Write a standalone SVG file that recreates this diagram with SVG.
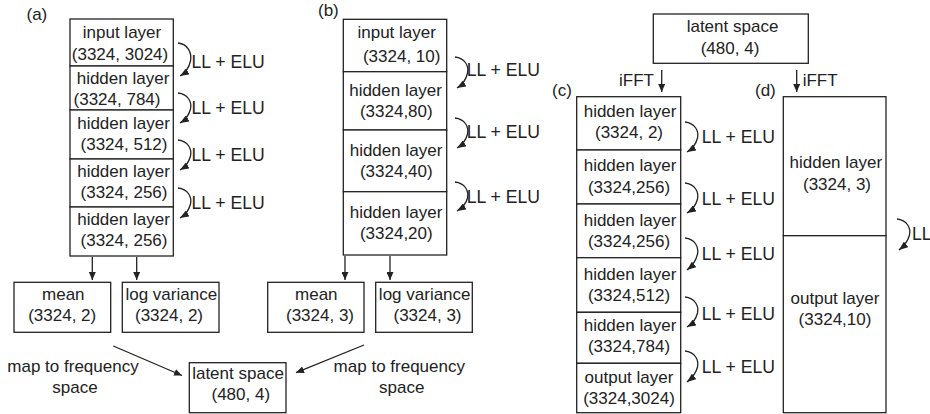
<svg xmlns="http://www.w3.org/2000/svg" width="930" height="414" viewBox="0 0 930 414">
<defs>
<marker id="ah" viewBox="0 0 9 7" refX="9" refY="3.5" markerWidth="9" markerHeight="7" markerUnits="userSpaceOnUse" orient="auto">
<path d="M0,0 L9,3.5 L0,7 z" fill="#222"/>
</marker>
<marker id="ahs" viewBox="0 0 8 7" refX="8" refY="3.5" markerWidth="8" markerHeight="7" markerUnits="userSpaceOnUse" orient="auto">
<path d="M0,0 L8,3.5 L0,7 z" fill="#222"/>
</marker>
</defs>
<style>
rect{fill:#fff;stroke:#222;stroke-width:1.3}
text{font-family:"Liberation Sans",Arial,sans-serif;font-size:17px;fill:#222}
.m{text-anchor:middle}
.e{text-anchor:end}
.l{font-size:17.6px}
.c{fill:none;stroke:#222;stroke-width:1.3;marker-end:url(#ah)}
.s{fill:none;stroke:#222;stroke-width:1.3;marker-end:url(#ahs)}
</style>
<rect x="0" y="0" width="930" height="414" style="stroke:none"/>
<g id="labels">
<text x="26.5" y="20">(a)</text>
<text x="318" y="16">(b)</text>
<text x="552" y="96">(c)</text>
<text x="755" y="96">(d)</text>
</g>
<g id="a1"><rect x="70" y="19" width="103.3" height="47"/><text class="m" x="122" y="37.5">input layer</text><text class="m" x="120" y="59.5">(3324, 3024)</text></g>
<g id="a2"><rect x="70" y="66" width="103.3" height="44"/><text class="m" x="123" y="84">hidden layer</text><text class="m" x="117" y="104.5">(3324, 784)</text></g>
<g id="a3"><rect x="70" y="110" width="103.3" height="49"/><text class="m" x="123.5" y="129">hidden layer</text><text class="m" x="124" y="150">(3324, 512)</text></g>
<g id="a4"><rect x="70" y="159" width="103.3" height="48"/><text class="m" x="123.5" y="177">hidden layer</text><text class="m" x="124" y="198">(3324, 256)</text></g>
<g id="a5"><rect x="70" y="207" width="103.3" height="49"/><text class="m" x="123.5" y="225">hidden layer</text><text class="m" x="124" y="246">(3324, 256)</text></g>
<g id="b1"><rect x="343.3" y="19.3" width="103.4" height="52.4"/><text class="m" x="396.7" y="38">input layer</text><text class="m" x="401.7" y="61.5">(3324, 10)</text></g>
<g id="b2"><rect x="343.3" y="71.7" width="103.4" height="58.3"/><text class="m" x="395.5" y="96">hidden layer</text><text class="m" x="396.3" y="117">(3324,80)</text></g>
<g id="b3"><rect x="343.3" y="130" width="103.4" height="61.7"/><text class="m" x="396" y="156">hidden layer</text><text class="m" x="396.3" y="177">(3324,40)</text></g>
<g id="b4"><rect x="343.3" y="191.7" width="103.4" height="63.3"/><text class="m" x="396" y="218">hidden layer</text><text class="m" x="396.3" y="239">(3324,20)</text></g>
<g id="meanA"><rect x="14" y="282.3" width="96.7" height="50"/><text class="m" x="63.3" y="300">mean</text><text class="m" x="62.2" y="321">(3324, 2)</text></g>
<g id="logvarA"><rect x="122.3" y="282.3" width="96.7" height="50"/><text class="m" x="171.3" y="300">log variance</text><text class="m" x="169" y="321">(3324, 2)</text></g>
<g id="meanB"><rect x="267.7" y="282.3" width="96.3" height="50"/><text class="m" x="316.3" y="300">mean</text><text class="m" x="320" y="321">(3324, 3)</text></g>
<g id="logvarB"><rect x="375.7" y="282.3" width="96.6" height="50"/><text class="m" x="424.7" y="300">log variance</text><text class="m" x="427.5" y="321">(3324, 3)</text></g>
<g id="latentBottom"><rect x="189.3" y="362.7" width="96.7" height="50"/><text class="m" x="238" y="379">latent space</text><text class="m" x="240.8" y="400">(480, 4)</text></g>
<g id="latentTop"><rect x="653.3" y="14" width="155" height="49.3"/><text class="m" x="732.5" y="32">latent space</text><text class="m" x="730" y="53.5">(480, 4)</text></g>
<g id="c1"><rect x="576.7" y="96.7" width="104" height="53.3"/><text class="m" x="630" y="117">hidden layer</text><text class="m" x="629" y="138">(3324, 2)</text></g>
<g id="c2"><rect x="576.7" y="150" width="104" height="54"/><text class="m" x="630" y="171">hidden layer</text><text class="m" x="629" y="193">(3324,256)</text></g>
<g id="c3"><rect x="576.7" y="204" width="104" height="53.7"/><text class="m" x="630" y="225.5">hidden layer</text><text class="m" x="629" y="246.5">(3324,256)</text></g>
<g id="c4"><rect x="576.7" y="257.7" width="104" height="54.6"/><text class="m" x="630" y="280">hidden layer</text><text class="m" x="629" y="301">(3324,512)</text></g>
<g id="c5"><rect x="576.7" y="312.3" width="104" height="51"/><text class="m" x="630" y="331">hidden layer</text><text class="m" x="629" y="352">(3324,784)</text></g>
<g id="c6"><rect x="576.7" y="363.3" width="104" height="49.4"/><text class="m" x="629" y="383">output layer</text><text class="m" x="629" y="404">(3324,3024)</text></g>
<g id="d1"><rect x="783.3" y="96.7" width="102.7" height="139"/><text class="m" x="835.8" y="168">hidden layer</text><text class="m" x="837" y="189.5">(3324, 3)</text></g>
<g id="d2"><rect x="783.3" y="235.7" width="102.7" height="177"/><text class="m" x="835" y="303.5">output layer</text><text class="m" x="835" y="324.5">(3324,10)</text></g>
<g id="connectors">
<path class="c" d="M178,43 C188,44 192,53 190.5,61 C189,68 185,73 180,76"/>
<path class="c" d="M178,93 C188,94 192,102 190.5,109 C189,115 185,120 180,123"/>
<path class="c" d="M178,140 C188,141 192,149 190.5,156 C189,162 185,167 180,170"/>
<path class="c" d="M178,188 C188,189 192,197 190.5,204 C189,210 185,215 180,218"/>
<path class="c" d="M455,57 C465,58 469,66 467.5,73 C466,80 462,85 457,88"/>
<path class="c" d="M455,118 C465,119 469,127 467.5,134 C466,140 462,145 457,148"/>
<path class="c" d="M455,182 C465,183 469,191 467.5,198 C466,204 462,208 457,211"/>
<path class="c" d="M685,122 C695,123 699,131 697.5,138 C696,144 692,149 687,152"/>
<path class="c" d="M685,183 C695,184 699,192 697.5,199 C696,205 692,210 687,213"/>
<path class="c" d="M685,238 C695,239 699,247 697.5,254 C696,261 692,266 687,270"/>
<path class="c" d="M685,297 C695,298 699,306 697.5,313 C696,319 692,324 687,327"/>
<path class="c" d="M685,351 C695,352 699,360 697.5,367 C696,373 692,378 687,382"/>
<path class="c" d="M897,219 C907,220 911,228 909.5,235 C908,241 904,246 899,250"/>
<path class="s" d="M92.3,257 L92.3,280"/>
<path class="s" d="M136.7,257 L136.7,280"/>
<path class="s" d="M345,256 L345,280"/>
<path class="s" d="M390,256 L390,280"/>
<path class="s" d="M113.3,346 L182,375.5"/>
<path class="s" d="M364,345 L296,372.7"/>
<path class="s" d="M661.7,70 L661.7,92"/>
<path class="s" d="M796.7,70 L796.7,92"/>
</g>
<g id="edgeLabels">
<text class="l" x="191.5" y="68">LL + ELU</text>
<text class="l" x="191.5" y="114">LL + ELU</text>
<text class="l" x="191.5" y="161">LL + ELU</text>
<text class="l" x="191.5" y="209">LL + ELU</text>
<text class="l" x="466.7" y="76">LL + ELU</text>
<text class="l" x="466.7" y="138">LL + ELU</text>
<text class="l" x="466.7" y="203">LL + ELU</text>
<text class="l" x="701.7" y="143">LL + ELU</text>
<text class="l" x="701.7" y="204.5">LL + ELU</text>
<text class="l" x="701.7" y="259.5">LL + ELU</text>
<text class="l" x="701.7" y="320">LL + ELU</text>
<text class="l" x="701.7" y="373">LL + ELU</text>
<text class="l" x="912" y="239.5">LL</text>
<text class="e" x="654" y="86">iFFT</text>
<text x="802.7" y="86">iFFT</text>
<text class="m" x="73" y="372">map to frequency</text>
<text class="m" x="75" y="393">space</text>
<text class="m" x="399.3" y="372">map to frequency</text>
<text class="m" x="401.7" y="393">space</text>
</g>
</svg>
